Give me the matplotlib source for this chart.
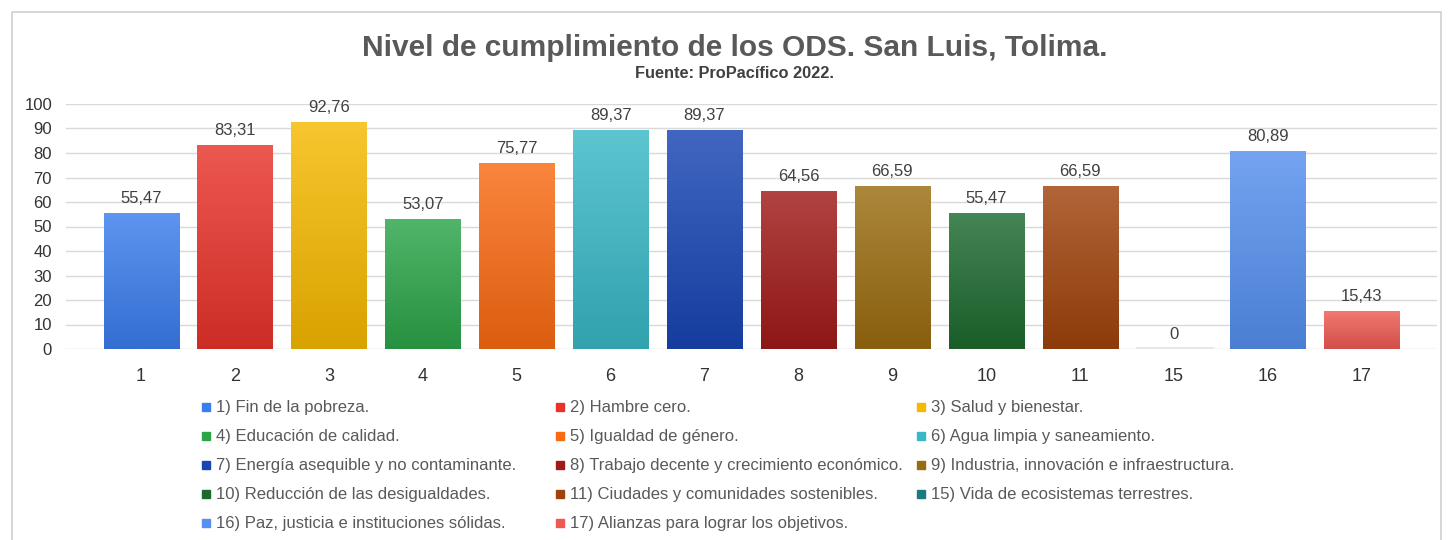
import numpy as np
import matplotlib.pyplot as plt
from matplotlib.colors import to_rgb
from matplotlib.patches import Rectangle
from matplotlib.lines import Line2D

plt.rcParams['font.family'] = ['Liberation Sans', 'DejaVu Sans']

categories = ["1", "2", "3", "4", "5", "6", "7", "8", "9", "10", "11", "15", "16", "17"]
values = [55.47, 83.31, 92.76, 53.07, 75.77, 89.37, 89.37, 64.56, 66.59, 55.47, 66.59, 0, 80.89, 15.43]
value_labels = ["55,47", "83,31", "92,76", "53,07", "75,77", "89,37", "89,37",
                "64,56", "66,59", "55,47", "66,59", "0", "80,89", "15,43"]
legend_names = [
    "1) Fin de la pobreza.",
    "2) Hambre cero.",
    "3) Salud y bienestar.",
    "4) Educación de calidad.",
    "5) Igualdad de género.",
    "6) Agua limpia y saneamiento.",
    "7) Energía asequible y no contaminante.",
    "8) Trabajo decente y crecimiento económico.",
    "9) Industria, innovación e infraestructura.",
    "10) Reducción de las desigualdades.",
    "11) Ciudades y comunidades sostenibles.",
    "15) Vida de ecosistemas terrestres.",
    "16) Paz, justicia e instituciones sólidas.",
    "17) Alianzas para lograr los objetivos.",
]
colors = ["#3a7ded", "#e8332a", "#f6b900", "#2ba548", "#f96a12", "#38b8c6", "#1845b4",
          "#a01a18", "#9a6c10", "#1d6a2f", "#a0430c", "#1b7a80", "#5590ef", "#ee5a52"]

fig = plt.figure(figsize=(14.49, 5.4), dpi=100)
fig.patches.append(Rectangle((12 / 1449, -0.01), 1429 / 1449, 1 - 12 / 540 + 0.01,
                             transform=fig.transFigure, fill=False,
                             edgecolor="#d0d0d0", linewidth=1.2))

ax = fig.add_axes([66 / 1449, 1 - 349 / 540, (1437 - 66) / 1449, (349 - 104) / 540])
x = np.arange(len(categories))
width = 0.8
bars = ax.bar(x, values, width=width, color=colors, zorder=2)

# vertical gradient inside every bar (lighter at top, darker at bottom)
for b, c in zip(bars, colors):
    h = b.get_height()
    if h <= 0:
        continue
    rgb = np.array(to_rgb(c))
    top = rgb + (1 - rgb) * 0.18
    bot = rgb * 0.88
    t = np.linspace(0, 1, 64)[:, None]
    grad = (top * (1 - t) + bot * t)[:, None, :]
    im = ax.imshow(grad, extent=[b.get_x(), b.get_x() + b.get_width(), 0, h],
                   aspect="auto", origin="upper", zorder=3)
    im.set_clip_path(b)

# zero bar shows as thin light line
for xi, v in zip(x, values):
    if v == 0:
        ax.plot([xi - width / 2, xi + width / 2], [0.3, 0.3], color="#e6e6e6", lw=2, zorder=3)

for xi, v, lab in zip(x, values, value_labels):
    ax.annotate(lab, (xi, v), xytext=(0, 5), textcoords="offset points",
                ha="center", va="bottom", fontsize=12, color="#404040")

ax.set_xlim(-0.8, len(categories) - 1 + 0.8)
ax.set_ylim(0, 100)
ax.set_yticks(np.arange(0, 101, 10))
ax.set_xticks(x)
ax.set_xticklabels(categories, fontsize=13, color="#333333")
ax.tick_params(axis="y", labelsize=12, labelcolor="#333333", length=0, pad=10)
ax.tick_params(axis="x", length=0, pad=14)
ax.grid(axis="y", color="#d9d9d9", linewidth=1, zorder=0)
for s in ax.spines.values():
    s.set_visible(False)

fig.text(0.507, 0.912, "Nivel de cumplimiento de los ODS. San Luis, Tolima.",
         ha="center", va="center", fontsize=21.5, fontweight="bold", color="#595959")
fig.text(0.507, 0.864, "Fuente: ProPacífico 2022.", ha="center", va="center",
         fontsize=11.8, fontweight="bold", color="#404040")

# legend laid out row by row in three columns
handles = [Line2D([], [], marker="s", linestyle="none", markersize=6,
                  markerfacecolor=c, markeredgecolor=c) for c in colors]
col_x = [193, 547, 908]
for col in range(3):
    idx = list(range(col, len(legend_names), 3))
    leg = fig.legend([handles[i] for i in idx], [legend_names[i] for i in idx],
                     loc="upper left", bbox_to_anchor=(col_x[col] / 1449, 1 - 392 / 540),
                     frameon=False, fontsize=12, handlelength=0.6, handletextpad=0.3,
                     labelspacing=0.84, borderpad=0, labelcolor="#595959")

fig.savefig("out.png", dpi=100)
